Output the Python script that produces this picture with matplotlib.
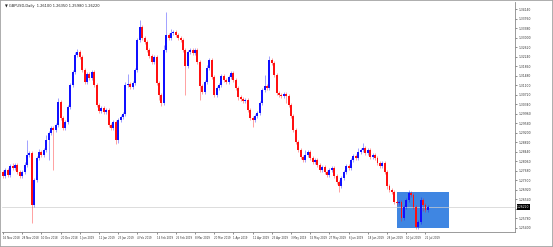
import matplotlib
matplotlib.use("Agg")
import matplotlib.pyplot as plt
from matplotlib.patches import Rectangle
from matplotlib.ticker import MultipleLocator, FuncFormatter
import numpy as np

# ---- data ----
title_text = "\u25bc GBPUSD,Daily  1.26100 1.26350 1.25980 1.26220"

first_open = 1.2762
closes = [
    1.2746, 1.2770, 1.2750, 1.2786, 1.2778, 1.2790, 1.2762, 1.2746, 1.2762, 1.2790,
    1.2830, 1.2838, 1.2630, 1.2730, 1.2818, 1.2842, 1.2830, 1.2850, 1.2890, 1.2918,
    1.2938, 1.2930, 1.2950, 1.3042, 1.2978, 1.2938, 1.2962, 1.3022, 1.3110, 1.3162,
    1.3230, 1.3242, 1.3222, 1.3170, 1.3122, 1.3154, 1.3138, 1.3162, 1.3110, 1.3030,
    1.3006, 1.3018, 1.3002, 1.3010, 1.2950, 1.2938, 1.2962, 1.2890, 1.2970, 1.2982,
    1.2994, 1.3110, 1.3114, 1.3102, 1.3118, 1.3170, 1.3290, 1.3342, 1.3298, 1.3282,
    1.3250, 1.3226, 1.3202, 1.3222, 1.3118, 1.3070, 1.3038, 1.3250, 1.3310, 1.3298,
    1.3318, 1.3322, 1.3310, 1.3298, 1.3290, 1.3250, 1.3186, 1.3242, 1.3250, 1.3238,
    1.3250, 1.3202, 1.3106, 1.3082, 1.3122, 1.3178, 1.3210, 1.3142, 1.3070, 1.3098,
    1.3110, 1.3146, 1.3130, 1.3122, 1.3142, 1.3158, 1.3130, 1.3098, 1.3062, 1.3054,
    1.3046, 1.3050, 1.3010, 1.2978, 1.2970, 1.2986, 1.2998, 1.3038, 1.3090, 1.3106,
    1.3098, 1.3210, 1.3198, 1.3150, 1.3078, 1.3070, 1.3066, 1.3074, 1.3066, 1.3030,
    1.2986, 1.2930, 1.2882, 1.2850, 1.2822, 1.2810, 1.2830, 1.2842, 1.2818, 1.2802,
    1.2810, 1.2790, 1.2770, 1.2782, 1.2762, 1.2750, 1.2770, 1.2778, 1.2746, 1.2722,
    1.2706, 1.2738, 1.2762, 1.2786, 1.2778, 1.2810, 1.2826, 1.2818, 1.2842, 1.2850,
    1.2858, 1.2838, 1.2850, 1.2822, 1.2830, 1.2818, 1.2798, 1.2786, 1.2798, 1.2762,
    1.2706, 1.2690, 1.2682, 1.2642, 1.2638, 1.2642, 1.2578, 1.2622, 1.2650, 1.2678,
    1.2670, 1.2622, 1.2542, 1.2562, 1.2650, 1.2630, 1.2610, 1.2622,
]

# wick lengths beyond the body, in pips
upper_wick = [
    8, 8, 8, 8, 12, 8, 8, 8, 8, 12,
    60, 8, 8, 8, 8, 12, 8, 8, 20, 8,
    8, 8, 8, 16, 8, 8, 8, 8, 8, 8,
    12, 12, 8, 8, 8, 8, 8, 8, 8, 8,
    8, 8, 8, 8, 8, 8, 8, 8, 8, 8,
    8, 12, 40, 8, 8, 8, 8, 28, 8, 8,
    8, 8, 8, 8, 8, 8, 8, 20, 92, 8,
    16, 8, 8, 8, 8, 8, 8, 8, 8, 8,
    8, 8, 8, 8, 8, 12, 8, 8, 8, 8,
    8, 8, 8, 8, 8, 8, 8, 8, 8, 8,
    8, 8, 8, 8, 8, 8, 8, 8, 8, 44,
    8, 16, 8, 8, 8, 8, 8, 8, 8, 8,
    8, 8, 8, 8, 8, 8, 20, 8, 8, 8,
    8, 8, 8, 8, 8, 8, 8, 8, 8, 8,
    8, 8, 8, 8, 8, 8, 8, 8, 16, 8,
    20, 8, 8, 8, 8, 8, 8, 8, 8, 8,
    8, 8, 8, 8, 8, 8, 8, 8, 8, 12,
    8, 8, 8, 8, 12, 8, 8, 8,
]
lower_wick = [
    8, 8, 8, 8, 8, 8, 8, 8, 8, 8,
    8, 8, 72, 8, 8, 8, 8, 8, 8, 80,
    8, 160, 8, 8, 8, 8, 8, 8, 8, 8,
    8, 8, 8, 8, 8, 8, 8, 8, 8, 8,
    8, 8, 8, 8, 8, 8, 8, 16, 12, 8,
    8, 8, 8, 8, 8, 8, 8, 8, 8, 8,
    8, 8, 8, 8, 8, 20, 12, 8, 8, 8,
    8, 8, 8, 8, 8, 8, 116, 8, 8, 8,
    8, 8, 56, 8, 8, 8, 8, 8, 8, 8,
    8, 8, 8, 8, 8, 8, 8, 8, 12, 8,
    8, 8, 8, 8, 28, 8, 8, 8, 8, 8,
    8, 8, 8, 8, 8, 8, 8, 8, 28, 8,
    8, 8, 8, 8, 8, 8, 8, 8, 8, 8,
    8, 8, 8, 8, 8, 8, 8, 8, 8, 8,
    24, 8, 8, 8, 8, 8, 8, 8, 8, 8,
    8, 8, 8, 8, 8, 8, 8, 8, 8, 8,
    12, 8, 8, 8, 8, 8, 12, 8, 8, 8,
    8, 8, 8, 8, 8, 24, 8, 8,
]

date_labels = [
    "16 Nov 2018", "28 Nov 2018", "10 Dec 2018", "20 Dec 2018", "1 Jan 2019",
    "11 Jan 2019", "23 Jan 2019", "4 Feb 2019", "14 Feb 2019", "26 Feb 2019",
    "8 Mar 2019", "20 Mar 2019", "1 Apr 2019", "11 Apr 2019", "23 Apr 2019",
    "3 May 2019", "15 May 2019", "27 May 2019", "6 Jun 2019", "18 Jun 2019",
    "28 Jun 2019", "10 Jul 2019", "22 Jul 2019",
]
bars_per_label = 8

last_price = 1.2622
zone_bars = (164.2, 185.8)
zone_prices = (1.2538, 1.2682)

# ---- build ----
closes = np.array(closes)
opens = np.concatenate([[first_open], closes[:-1]])
highs = np.maximum(opens, closes) + np.array(upper_wick) / 10000
lows = np.minimum(opens, closes) - np.array(lower_wick) / 10000
x = np.arange(len(closes))
up = closes >= opens
cols = np.where(up, "#1010ff", "#ff1010")
body = closes - opens
body = np.where(np.abs(body) < 0.0003, np.where(up, 0.0003, -0.0003), body)

fig = plt.figure(figsize=(5.53, 2.47), dpi=100)
ax = fig.add_axes([2 / 553, 15 / 247, 513 / 553, 230 / 247])

ax.add_patch(Rectangle((zone_bars[0], zone_prices[0]), zone_bars[1] - zone_bars[0],
                       zone_prices[1] - zone_prices[0], facecolor="#3f86e2",
                       edgecolor="none", zorder=1))
ax.axhline(last_price, color="#cfcfcf", lw=0.5, zorder=1.5)

ax.vlines(x, lows, highs, colors=cols, lw=0.5, alpha=0.55, zorder=2)
ax.bar(x, body, bottom=opens, width=0.8, color=cols, linewidth=0, zorder=3)

ax.set_xlim(-0.42, 213.3)
ax.set_ylim(1.2522, 1.3442)


def price_fmt(v, pos):
    # the current-price box covers the label next to it
    if abs(v - last_price) < 0.0016:
        return ""
    return "%.5f" % v


ax.yaxis.tick_right()
ax.yaxis.set_major_locator(MultipleLocator(0.0038))
ax.yaxis.set_major_formatter(FuncFormatter(price_fmt))
ax.tick_params(axis="y", labelsize=2.2, length=1.5, width=0.4, pad=1,
               colors="#333333")

ticks = np.arange(len(date_labels)) * bars_per_label
ax.set_xticks(ticks)
ax.set_xticklabels(date_labels, ha="left")
ax.tick_params(axis="x", labelsize=1.9, length=1.5, width=0.4, pad=1.5,
               colors="#333333")

for s in ax.spines.values():
    s.set_color("#8a8a8a")
    s.set_linewidth(0.6)
ax.spines["left"].set_visible(False)
ax.spines["top"].set_visible(False)

ax.text(1.004, last_price, "%.5f" % last_price, transform=ax.get_yaxis_transform(),
        ha="left", va="center", fontsize=2.2, color="white",
        bbox=dict(facecolor="black", edgecolor="none", pad=0.4))
ax.text(0.006, 0.99, title_text, transform=ax.transAxes, fontsize=2.6,
        va="top", ha="left", color="#222222")

# window frame
fig.add_artist(Rectangle((0, 0), 1, 1, transform=fig.transFigure, fill=False,
                         edgecolor="#a0a0a0", lw=1.2))

fig.savefig("out.png", dpi=100)
